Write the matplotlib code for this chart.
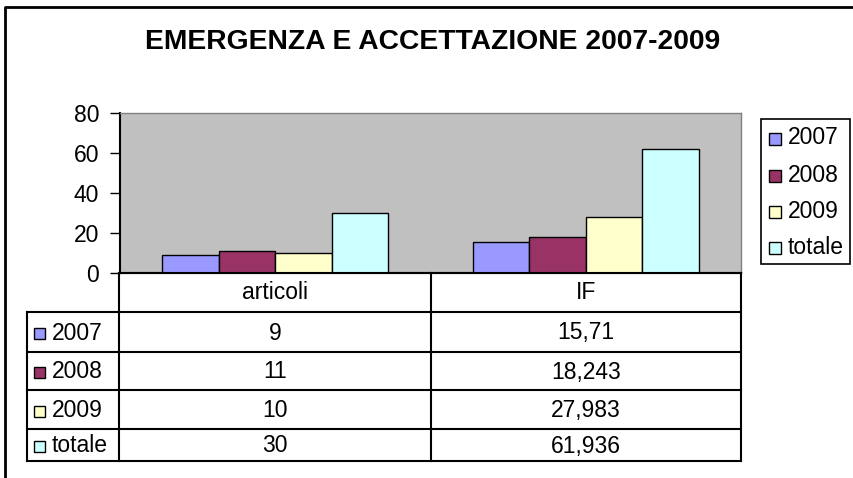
import matplotlib.pyplot as plt
from matplotlib.patches import Rectangle
from matplotlib.lines import Line2D

# data
categories = ["articoli", "IF"]
series = ["2007", "2008", "2009", "totale"]
articoli = [9, 11, 10, 30]
impact = [15.71, 18.243, 27.983, 61.936]
colors = ["#9999FF", "#993366", "#FFFFCC", "#CCFFFF"]
yticks = [0, 20, 40, 60, 80]

values = [articoli, impact]

plt.rcParams['font.family'] = ['Liberation Sans', 'DejaVu Sans']
fs = 16.5

W, H = 854, 478
fig = plt.figure(figsize=(W / 100, H / 100), dpi=100)

# plot area in pixels
px0, px1, py0, py1 = 120, 741, 113, 273
ax = fig.add_axes([px0 / W, 1 - py1 / H, (px1 - px0) / W, (py1 - py0) / H])
ax.set_facecolor("#C0C0C0")

bw = 1 / 5.5
for i, name in enumerate(series):
    xs = [c + 0.75 * bw + i * bw for c in range(len(categories))]
    hs = [v[i] for v in values]
    ax.bar(xs, hs, width=bw, align="edge", color=colors[i],
           edgecolor="black", linewidth=1, zorder=3)

ax.set_xlim(0, len(categories))
ax.set_ylim(0, 80)
ax.set_yticks(yticks)
ax.set_xticks([])
ax.tick_params(axis="y", direction="out", length=7, width=1, labelsize=fs, pad=8)
for s in ["top", "right"]:
    ax.spines[s].set_color("#808080")
    ax.spines[s].set_linewidth(1)
for s in ["left", "bottom"]:
    ax.spines[s].set_color("black")
    ax.spines[s].set_linewidth(1.5)

# overlay for title, data table, legend and border
ov = fig.add_axes([0, 0, 1, 1])
ov.set_xlim(0, W)
ov.set_ylim(H, 0)
ov.axis("off")

# outer chart border
ov.add_line(Line2D([5, 5, W + 5], [H + 5, 7, 7], color="black", lw=2))

ov.text(433, 42, "EMERGENZA E ACCETTAZIONE 2007-2009", ha="center", va="center",
        fontsize=20.3, fontweight="bold")

# data table
col_x = [27, 119, 431, 741]
row_y = [273, 312, 352, 390, 429, 461]
lc = dict(color="black", lw=1.5)
ov.add_line(Line2D([col_x[1], col_x[3]], [row_y[0], row_y[0]], **lc))
for y in row_y[1:]:
    ov.add_line(Line2D([col_x[0], col_x[3]], [y, y], **lc))
ov.add_line(Line2D([col_x[0], col_x[0]], [row_y[1], row_y[-1]], **lc))
for x in col_x[1:]:
    ov.add_line(Line2D([x, x], [row_y[0], row_y[-1]], **lc))

for j, cat in enumerate(categories):
    cx = (col_x[j + 1] + col_x[j + 2]) / 2
    ov.text(cx, (row_y[0] + row_y[1]) / 2, cat, ha="center", va="center", fontsize=fs)
    for i in range(len(series)):
        cy = (row_y[i + 1] + row_y[i + 2]) / 2 + 1
        txt = f"{values[j][i]:g}".replace(".", ",")
        ov.text(cx, cy, txt, ha="center", va="center", fontsize=fs)

for i, name in enumerate(series):
    cy = (row_y[i + 1] + row_y[i + 2]) / 2 + 1
    ov.add_patch(Rectangle((34, cy - 5), 11, 11, facecolor=colors[i],
                           edgecolor="black", lw=1))
    ov.text(52, cy, name, ha="left", va="center", fontsize=fs)

# legend
ov.add_patch(Rectangle((761, 119), 89, 145, facecolor="white", edgecolor="black", lw=1.2))
leg_y = [138, 175, 211, 247]
for i, name in enumerate(series):
    ov.add_patch(Rectangle((769, leg_y[i] - 5), 12, 12, facecolor=colors[i],
                           edgecolor="black", lw=1))
    ov.text(788, leg_y[i], name, ha="left", va="center", fontsize=fs)

fig.savefig("out.png", dpi=100)
